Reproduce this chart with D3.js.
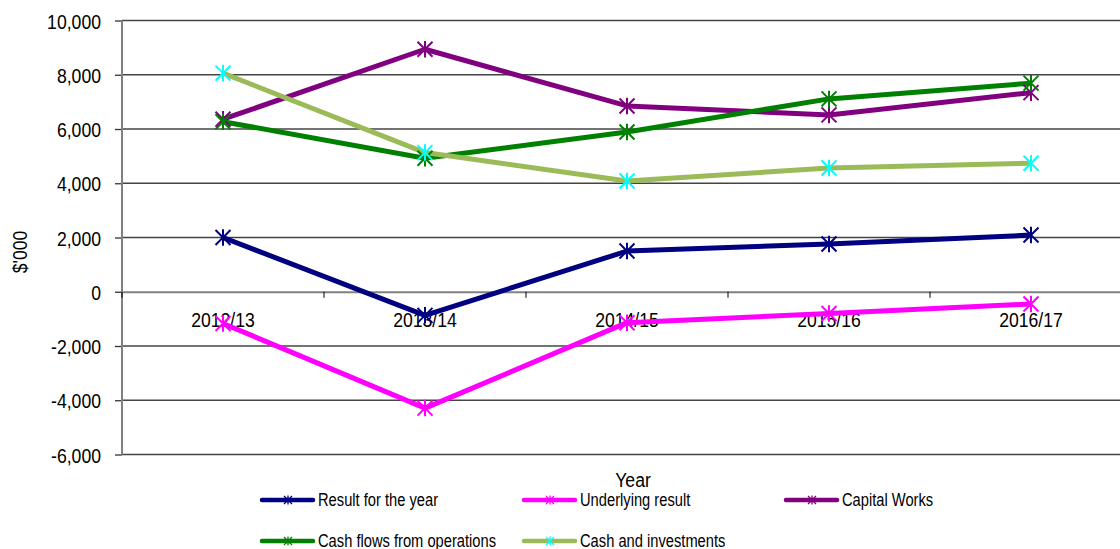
<!DOCTYPE html>
<html>
<head>
<meta charset="utf-8">
<script src="https://cdn.jsdelivr.net/npm/d3@7"></script>
<style>
  html, body { margin: 0; padding: 0; background: #fff; overflow: hidden; }
  text { font-family: "Liberation Sans", Arial, sans-serif; fill: #000; }
</style>
</head>
<body>
<div id="chart-container"></div>
<script>
((() => {
  const years = ["2012/13", "2013/14", "2014/15", "2015/16", "2016/17"];
  const yTicks = [-6000, -4000, -2000, 0, 2000, 4000, 6000, 8000, 10000];

  const resultForYear = [2000, -870, 1500, 1760, 2090];
  const underlyingResult = [-1170, -4290, -1140, -800, -450];
  const capitalWorks = [6360, 8940, 6850, 6520, 7340];
  const cashFlowsOps = [6270, 4920, 5890, 7110, 7690];
  const cashInvestments = [8060, 5130, 4085, 4560, 4740];

  const seriesNames = ["Result for the year", "Underlying result", "Capital Works",
    "Cash flows from operations", "Cash and investments"];
  const seriesValues = [resultForYear, underlyingResult, capitalWorks, cashFlowsOps, cashInvestments];
  const lineColors = ["#000080", "#FF00FF", "#800080", "#008000", "#9BBB59"];
  const markerColors = ["#000080", "#FF00FF", "#800080", "#008000", "#00FFFF"];

  const width = 1120;
  const height = 549;
  const marginLeft = 122;
  const plotRight = 1132;
  const marginTop = 20.5;
  const plotBottom = 454.5;
  const squeeze = 0.84; // the source font is a narrow one

  const x = d3.scaleBand()
    .domain(years)
    .range([marginLeft, plotRight]);

  const y = d3.scaleLinear()
    .domain([-6000, 10000])
    .range([plotBottom, marginTop]);

  const svg = d3.create("svg")
    .attr("width", width)
    .attr("height", height)
    .attr("viewBox", [0, 0, width, height]);

  // gridlines + y labels
  const yAxis = svg.append("g")
    .attr("transform", `translate(${marginLeft},0)`)
    .call(d3.axisLeft(y).tickValues(yTicks).tickSize(7)
      .tickFormat(d => d3.format(",")(d).replace("\u2212", "-")));
  yAxis.select(".domain").remove();
  yAxis.selectAll(".tick line").attr("stroke", "#333").attr("stroke-width", 1.3);
  yAxis.selectAll(".tick text")
    .attr("x", -21 / squeeze)
    .attr("dy", "0.36em")
    .attr("transform", `scale(${squeeze},1)`)
    .style("font-size", "21px");

  svg.append("g")
    .selectAll("line")
    .data(yTicks.filter(d => d !== 0))
    .join("line")
    .attr("x1", marginLeft).attr("x2", plotRight)
    .attr("y1", d => y(d)).attr("y2", d => y(d))
    .attr("stroke", "#444")
    .attr("stroke-width", 1.3);

  // left axis line
  svg.append("line")
    .attr("x1", marginLeft).attr("x2", marginLeft)
    .attr("y1", marginTop).attr("y2", plotBottom)
    .attr("stroke", "#808080").attr("stroke-width", 2);

  // zero axis with category labels
  const xAxis = svg.append("g")
    .attr("transform", `translate(0,${y(0)})`)
    .call(d3.axisBottom(x).tickSize(0).tickSizeOuter(0));
  xAxis.select(".domain").attr("stroke", "#808080").attr("stroke-width", 2);
  xAxis.selectAll(".tick text")
    .attr("dy", 0)
    .attr("y", 35)
    .attr("transform", `scale(${squeeze},1)`)
    .style("font-size", "21px");

  svg.append("g")
    .selectAll("line")
    .data(years)
    .join("line")
    .attr("x1", d => x(d)).attr("x2", d => x(d))
    .attr("y1", y(0)).attr("y2", y(0) + 6)
    .attr("stroke", "#000").attr("stroke-width", 1);

  const cx = d => x(d) + x.bandwidth() / 2;

  const line = d3.line()
    .x((d, i) => cx(years[i]))
    .y(d => y(d));

  const star = (g, r, color, sw) => {
    g.append("path")
      .attr("d", `M${-r},${-r}L${r},${r}M${-r},${r}L${r},${-r}M0,${-r * 1.1}L0,${r * 1.1}`)
      .attr("stroke", color)
      .attr("stroke-width", sw)
      .attr("fill", "none");
  };

  seriesValues.forEach((vals, s) => {
    svg.append("path")
      .datum(vals)
      .attr("d", line)
      .attr("fill", "none")
      .attr("stroke", lineColors[s])
      .attr("stroke-width", 5)
      .attr("stroke-linejoin", "round");
  });

  seriesValues.forEach((vals, s) => {
    svg.append("g")
      .selectAll("g")
      .data(vals)
      .join("g")
      .attr("transform", (d, i) => `translate(${cx(years[i])},${y(d)})`)
      .each(function () { star(d3.select(this), 7.5, markerColors[s], 2); });
  });

  // axis titles
  svg.append("text")
    .attr("transform", `translate(27,252) rotate(-90) scale(${squeeze},1)`)
    .attr("text-anchor", "middle")
    .style("font-size", "21px")
    .text("$'000");

  svg.append("text")
    .attr("transform", `translate(633,487) scale(${squeeze},1)`)
    .attr("text-anchor", "middle")
    .style("font-size", "21px")
    .text("Year");

  // legend
  const legendPos = [[262, 500], [524, 500], [786, 500], [262, 541], [524, 541]];
  seriesNames.forEach((name, s) => {
    const [lx, ly] = legendPos[s];
    const g = svg.append("g").attr("transform", `translate(${lx},${ly})`);
    g.append("line")
      .attr("x1", 0).attr("x2", 51)
      .attr("stroke", lineColors[s])
      .attr("stroke-width", 4.5)
      .attr("stroke-linecap", "round");
    const m = g.append("g").attr("transform", "translate(26,0)");
    star(m, 4, markerColors[s], 1.3);
    g.append("text")
      .attr("transform", `translate(56,6) scale(${squeeze},1)`)
      .style("font-size", "17.5px")
      .text(name);
  });

  d3.select("#chart-container").append(() => svg.node());
})());
</script>
</body>
</html>
